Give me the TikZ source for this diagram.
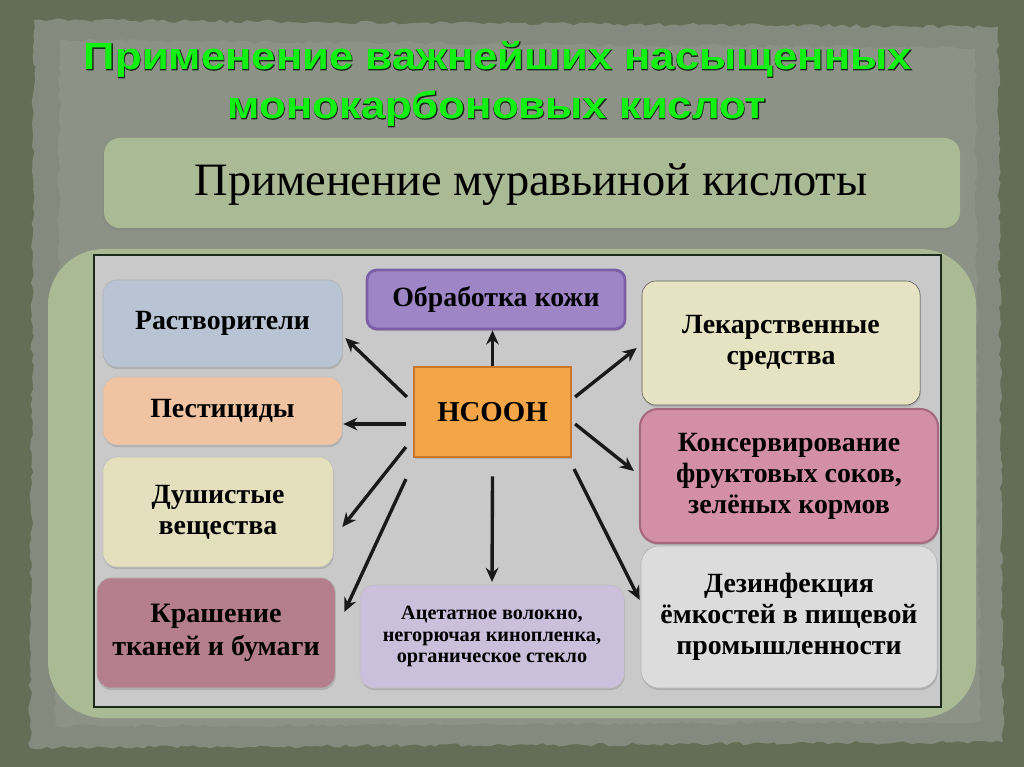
\documentclass[tikz,border=0pt]{standalone}
\usepackage{fontspec}
\setmainfont{Liberation Serif}
\newfontfamily\titlefont[FakeStretch=1.15]{Liberation Sans}
\newfontfamily\titlerim[FakeStretch=1.15,FakeBold=2.2]{Liberation Sans}
\usepackage{tikz}
\usetikzlibrary{arrows.meta,shadows,decorations.pathmorphing}

\definecolor{bgdark}{HTML}{646E56}
\definecolor{paperrim}{HTML}{848A7D}
\definecolor{paper}{HTML}{8C9285}
\definecolor{panel}{HTML}{AABA94}
\definecolor{titlegreen}{HTML}{12F212}
\definecolor{titleline}{HTML}{1C2A1C}
\definecolor{rastfill}{HTML}{B8C4D4}
\definecolor{pestfill}{HTML}{F0C4A2}
\definecolor{dushfill}{HTML}{E4E0BE}
\definecolor{krashfill}{HTML}{B57E8E}
\definecolor{kozhafill}{HTML}{9E85C6}
\definecolor{kozhaline}{HTML}{7A5FA8}
\definecolor{hcfill}{HTML}{F4A548}
\definecolor{hcline}{HTML}{C8772A}
\definecolor{lekfill}{HTML}{E6E3C2}
\definecolor{konsfill}{HTML}{D38FA5}
\definecolor{konsline}{HTML}{A66A80}
\definecolor{dezfill}{HTML}{DCDCDC}
\definecolor{acetfill}{HTML}{CBC0DC}

\tikzset{
	rough/.style={decorate,decoration={random steps,segment length=4pt,amplitude=1.3pt}},
	usebox/.style={rounded corners=0.35cm,align=center,inner sep=0pt,
		font=\bfseries\fontsize{19.8}{22}\selectfont,
		drop shadow={shadow xshift=0.5pt,shadow yshift=-1.5pt,opacity=0.35}},
	arr/.style={-{Stealth[length=10pt,width=9pt]},line width=2.4pt,black!90},
	ttl/.style={font=\titlefont\bfseries\fontsize{27}{30}\selectfont,text=titlegreen,anchor=base},
	ttlrim/.style={font=\titlerim\bfseries\fontsize{27}{30}\selectfont,text=titleline,anchor=base}
}

\begin{document}
\begin{tikzpicture}[x=0.025cm,y=-0.025cm]
	\pgfmathsetseed{7}
	\fill[bgdark] (0,0) rectangle (1024,767);
	\useasboundingbox (0,0) rectangle (1024,767);
	\fill[paperrim,rough] (34,20) -- (998,27) -- (1003,742) -- (30,748) -- cycle;
	\fill[paper,rough] (60,40) -- (975,48) -- (980,722) -- (55,726) -- cycle;

	\node[ttlrim] (rim1) at (498,70) {Применение важнейших насыщенных};
	\node[ttl] (title1) at (498,70) {Применение важнейших насыщенных};
	\node[ttlrim] (rim2) at (497,119) {монокарбоновых кислот};
	\node[ttl] (title2) at (497,119) {монокарбоновых кислот};

	\fill[panel,rounded corners=0.4cm,drop shadow={shadow xshift=-1pt,shadow yshift=-2pt,opacity=0.3}] (104,138) rectangle (960,228);
	\node[anchor=base,font=\fontsize{33}{36}\selectfont] (sub) at (531,196) {Применение муравьиной кислоты};

	\fill[panel,rounded corners=1.4cm] (48,249) rectangle (976,718);
	\draw[fill=black!21,draw=titleline,line width=1.1pt] (94,255) rectangle (941,707);

	\node[usebox,fill=rastfill,draw=black!30,minimum width=5.975cm,minimum height=2.175cm] (rast) at (222.5,323.5) {Растворители};
	\node[usebox,fill=pestfill,draw=black!25,minimum width=5.975cm,minimum height=1.7cm] (pest) at (222.5,411) {Пестициды};
	\node[usebox,fill=dushfill,draw=black!25,minimum width=5.75cm,minimum height=2.75cm] (dush) at (218,512) {Душистые\\вещества};
	\node[usebox,fill=krashfill,draw=black!30,minimum width=5.95cm,minimum height=2.75cm,font=\bfseries\fontsize{20}{23.5}\selectfont] (krash) at (216,633) {Крашение\\тканей и бумаги};
	\node[usebox,fill=kozhafill,draw=kozhaline,line width=2pt,rounded corners=0.25cm,minimum width=6.45cm,minimum height=1.475cm] (kozha) at (496,299.5) {Обработка кожи};
	\node[usebox,fill=hcfill,draw=hcline,line width=1.5pt,rounded corners=0pt,minimum width=3.925cm,minimum height=2.25cm,font=\bfseries\fontsize{20.5}{24}\selectfont] (hc) at (492.5,412) {НСООН};
	\node[usebox,fill=lekfill,draw=black!65,minimum width=6.95cm,minimum height=3.1cm] (lek) at (781,343) {Лекарственные\\средства};
	\node[usebox,fill=konsfill,draw=konsline,line width=1.5pt,rounded corners=0.45cm,minimum width=7.45cm,minimum height=3.35cm] (kons) at (789,476) {Консервирование\\фруктовых соков,\\зелёных кормов};
	\node[usebox,fill=dezfill,draw=black!30,rounded corners=0.45cm,minimum width=7.4cm,minimum height=3.55cm] (dez) at (789,617) {Дезинфекция\\ёмкостей в пищевой\\промышленности};
	\node[usebox,fill=acetfill,draw=black!25,minimum width=6.6cm,minimum height=2.575cm,font=\bfseries\fontsize{14.4}{15.5}\selectfont] (acet) at (492,636.5) {Ацетатное волокно,\\негорючая кинопленка,\\органическое стекло};

	\draw[arr] (hc.north) -- (hc.north |- kozha.south);
	\draw[arr] ([shift={(-6,-15)}]hc.west) -- ([shift={(3,14.5)}]rast.east);
	\draw[arr] ([shift={(-7,12)}]hc.west) -- ([shift={(1,13)}]pest.east);
	\draw[arr] ([shift={(-7,35)}]hc.west) -- ([shift={(9,15)}]dush.east);
	\draw[arr] ([shift={(-7,21)}]hc.south west) -- ([shift={(9,-21)}]krash.east);
	\draw[arr] ([yshift=-13]hc.south) -- ([yshift=2]acet.north);
	\draw[arr] ([shift={(3,-15)}]hc.east) -- ([shift={(-5,5)}]lek.west);
	\draw[arr] ([shift={(3,12)}]hc.east) -- ([shift={(-5,-5)}]kons.west);
	\draw[arr] ([shift={(2,11)}]hc.south east) -- ([shift={(-1,-17)}]dez.west);
\end{tikzpicture}
\end{document}
